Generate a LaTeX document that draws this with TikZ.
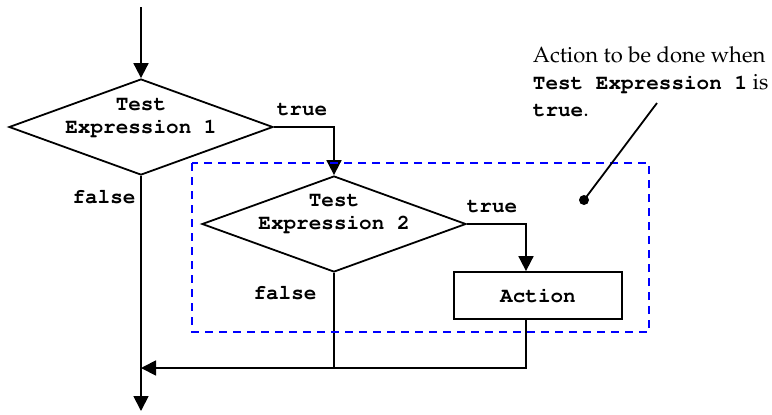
\documentclass[tikz,border=0pt]{standalone}
\usepackage[T1]{fontenc}
\usepackage{mathpazo}
\usepackage{courier}
\usetikzlibrary{arrows.meta,shapes.geometric}

\begin{document}
\begin{tikzpicture}[x=0.5pt,y=-0.5pt,line width=0.9pt,
  code/.style={font=\fontsize{10.5}{11.5}\selectfont\ttfamily\bfseries},
  decision/.style={draw,diamond,minimum width=132pt,minimum height=48pt,inner sep=0pt},
  actionbox/.style={draw,rectangle,minimum width=84pt,minimum height=23.5pt},
  flow/.style={-{Triangle[length=7.5pt,width=7.5pt]}}]
  \useasboundingbox (0,0) rectangle (772,414);
  \coordinate (start) at (141,7);
  \node[decision] (test1) at (141,127) {};
  \node[code,align=center] (text1) at ([yshift=4.5pt]test1.center) {Test\\Expression 1};
  \node[decision] (test2) at (334,224) {};
  \node[code,align=center] (text2) at ([yshift=5pt]test2.center) {Test\\Expression 2};
  \node[actionbox,code] (action) at (538,295.5) {Action};
  \coordinate (join) at (141,368);
  \coordinate (end) at (141,411);
  \node[code] (true1) at (302,110) {true};
  \node[code] (false1) at (104,197) {false};
  \node[code] (true2) at (492,207) {true};
  \node[code] (false2) at (285,293) {false};
  \draw[flow] (start) -- (test1.north);
  \draw[flow] (test1.east) -| (test2.north);
  \draw[flow] (test2.east) -| ([xshift=-6pt]action.north);
  \draw (test2.south) -- (test2.south |- join);
  \draw[flow] ([xshift=-6pt]action.south) |- (join);
  \draw[flow] (test1.south) -- (end);
  \draw[blue,line width=1pt,dash pattern=on 4.2pt off 2.8pt] (192,163) rectangle (649,332);
  \node[anchor=north west,inner sep=0pt,align=left,
    font=\fontsize{11}{13.5}\selectfont] (note) at (532,46)
    {Action to be done when\\
     {\ttfamily\bfseries\fontsize{10.5}{13.5}\selectfont Test Expression 1} is\\
     {\ttfamily\bfseries\fontsize{10.5}{13.5}\selectfont true}.};
  \node[circle,fill,inner sep=0pt,minimum size=5pt] (dot) at (584,200) {};
  \coordinate (tip) at (657,103);
  \draw (tip) -- (dot.center);
\end{tikzpicture}
\end{document}
